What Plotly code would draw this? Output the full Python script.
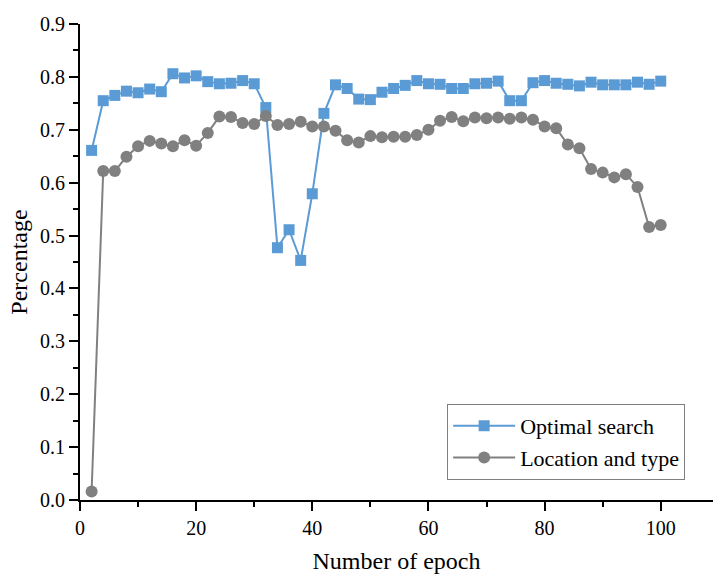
import plotly.graph_objects as go

epochs = list(range(2, 101, 2))
optimal_search = [0.661, 0.755, 0.765, 0.773, 0.770, 0.777, 0.772, 0.806, 0.798, 0.802,
                  0.791, 0.787, 0.788, 0.793, 0.787, 0.742, 0.477, 0.511, 0.453, 0.579,
                  0.731, 0.785, 0.778, 0.758, 0.757, 0.771, 0.778, 0.784, 0.793, 0.787,
                  0.786, 0.778, 0.778, 0.787, 0.788, 0.792, 0.755, 0.755, 0.789, 0.793,
                  0.788, 0.786, 0.783, 0.790, 0.785, 0.785, 0.785, 0.790, 0.786, 0.792]
location_type = [0.016, 0.622, 0.622, 0.649, 0.669, 0.679, 0.674, 0.669, 0.680, 0.670,
                 0.694, 0.725, 0.724, 0.713, 0.711, 0.726, 0.709, 0.711, 0.715, 0.706,
                 0.706, 0.698, 0.680, 0.676, 0.688, 0.686, 0.687, 0.687, 0.690, 0.700,
                 0.717, 0.724, 0.716, 0.723, 0.722, 0.723, 0.721, 0.723, 0.719, 0.706,
                 0.703, 0.672, 0.665, 0.626, 0.619, 0.610, 0.616, 0.592, 0.516, 0.520]
x_ticks = [0, 20, 40, 60, 80, 100]
y_ticks = [0.0, 0.1, 0.2, 0.3, 0.4, 0.5, 0.6, 0.7, 0.8, 0.9]

font = "Liberation Serif"

fig = go.Figure()
fig.add_trace(go.Scatter(x=epochs, y=optimal_search, mode="lines+markers", name="Optimal search",
                         line=dict(color="#5B9BD5", width=2),
                         marker=dict(symbol="square", size=11, color="#5B9BD5")))
fig.add_trace(go.Scatter(x=epochs, y=location_type, mode="lines+markers", name="Location and type",
                         line=dict(color="#808080", width=2),
                         marker=dict(symbol="circle", size=12, color="#808080")))

fig.update_layout(
    width=713, height=576,
    margin=dict(l=80, r=0, t=24, b=76),
    paper_bgcolor="white", plot_bgcolor="white",
    font=dict(family=font, size=20, color="black"),
    showlegend=True,
    legend=dict(x=0.956, y=0.042, xanchor="right", yanchor="bottom",
                bordercolor="#808080", borderwidth=1, bgcolor="white",
                font=dict(family=font, size=22, color="black"), tracegroupgap=0,
                itemwidth=62),
    xaxis=dict(range=[0, 109], tickvals=x_ticks, ticks="outside", ticklen=9, tickwidth=2,
               tickcolor="black",
               showline=True, linecolor="black", linewidth=2, showgrid=False, zeroline=False,
               minor=dict(dtick=10, ticks="outside", ticklen=5, tickwidth=2, tickcolor="black"),
               title=dict(text="Number of epoch", font=dict(family=font, size=24, color="black"), standoff=14),
               tickfont=dict(family=font, size=20, color="black")),
    yaxis=dict(range=[0, 0.9], tickvals=y_ticks, tickformat=".1f", ticks="outside", ticklen=9, tickwidth=2,
               tickcolor="black",
               showline=True, linecolor="black", linewidth=2, showgrid=False, zeroline=False,
               minor=dict(dtick=0.05, ticks="outside", ticklen=5, tickwidth=2, tickcolor="black"),
               title=dict(text="Percentage", font=dict(family=font, size=24, color="black"), standoff=6),
               tickfont=dict(family=font, size=20, color="black")),
)

fig.write_html("out.html")
